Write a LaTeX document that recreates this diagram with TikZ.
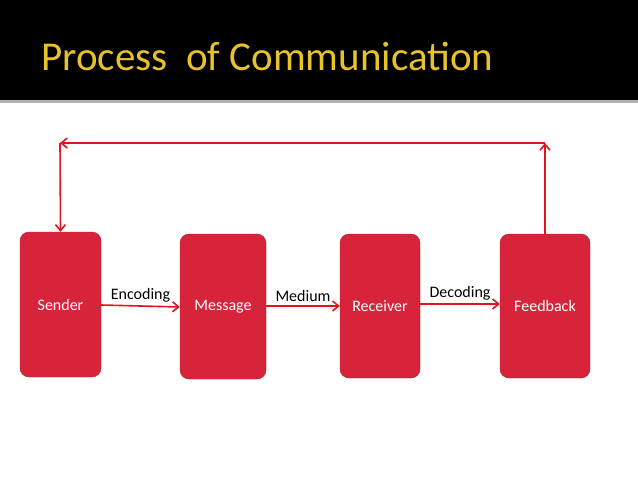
\documentclass[tikz,border=0pt]{standalone}
\usepackage{fontspec}
\setmainfont{Carlito}
\usetikzlibrary{arrows.meta}
\definecolor{boxred}{HTML}{D7243B}
\definecolor{linered}{HTML}{E0141E}
\definecolor{titlegold}{HTML}{E8C22A}
\tikzset{
  stage/.style={fill=boxred, draw=boxred!80!black, line width=0.4pt, rounded corners=9pt,
    text=white, font=\fontsize{16}{18}\selectfont},
  flow/.style={linered, line width=1.6pt, -{Straight Barb[length=6pt,width=10pt]}},
  tag/.style={font=\fontsize{16}{18}\selectfont, above, text=black}
}
\begin{document}
\begin{tikzpicture}[x=1pt,y=-1pt]
\useasboundingbox (0,0) rectangle (638,479);
\fill[black] (0,0) rectangle (638,100);
\fill[gray!60] (0,100) rectangle (638,103);
\node[anchor=base west, text=titlegold, font=\fontsize{41}{46}\selectfont] (title) at (38,70) {Process\ \ of Communication};
\node[stage, minimum width=81, minimum height=145] (sender) at (60.5,304.5) {Sender};
\node[stage, minimum width=86, minimum height=145] (message) at (223,306.5) {Message};
\node[stage, minimum width=80, minimum height=144] (receiver) at (380,306) {Receiver};
\node[stage, minimum width=90, minimum height=144] (feedback) at (545,306) {Feedback};
\draw[flow] (sender.east |- 0,305) -- node[tag] {Encoding} (message.west |- 0,307);
\draw[flow] (message.east |- 0,306) -- node[tag] {Medium} (receiver.west |- 0,306);
\draw[flow] (receiver.east |- 0,304) -- node[tag] {Decoding} (feedback.west |- 0,304);
\coordinate (top right) at (545,143);
\coordinate (top left) at (60,143);
\draw[flow] (feedback.north) -- (top right);
\draw[flow] (top right) -- (top left);
\draw[flow] (top left) -- (sender.north);
\end{tikzpicture}
\end{document}
